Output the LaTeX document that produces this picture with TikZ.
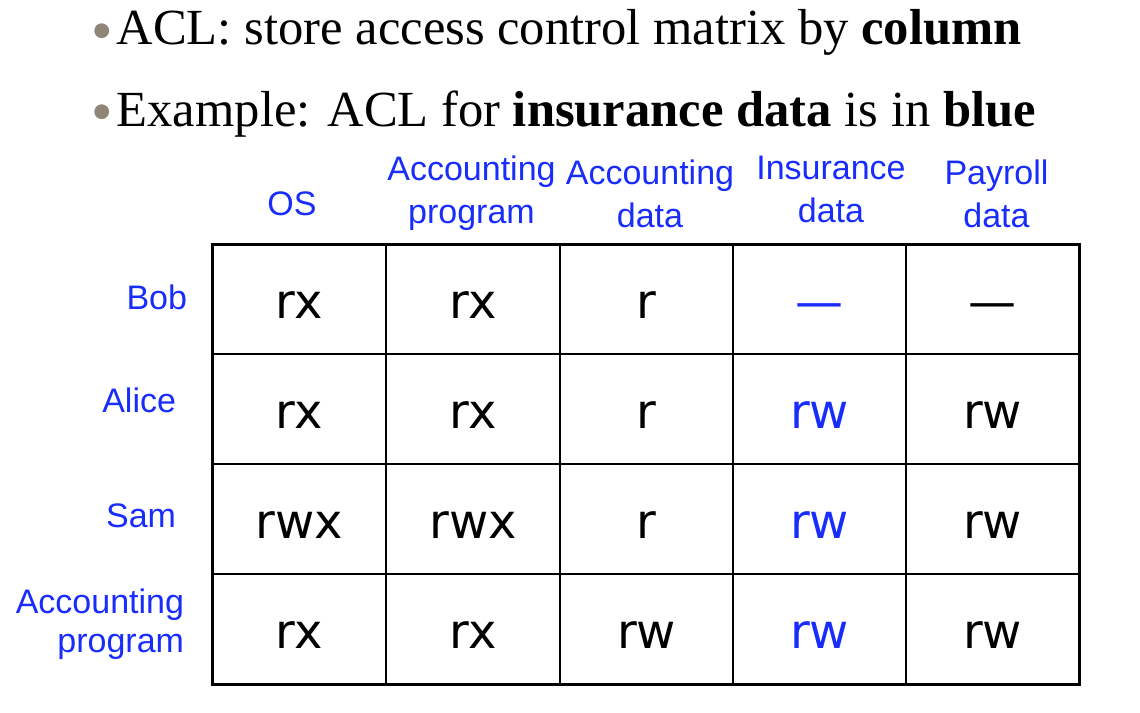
\documentclass[tikz,border=0pt]{standalone}
\usepackage{fontspec}
\setmainfont{Liberation Serif}
\newfontfamily\headfont{Liberation Sans}
\newfontfamily\cellfont{DejaVu Sans}
\definecolor{aclblue}{RGB}{25,45,250}
\definecolor{bulletgray}{RGB}{143,134,119}

\begin{document}
\begin{tikzpicture}[x=0.5pt, y=-0.5pt,
    every node/.style={inner sep=0pt, outer sep=0pt},
    dot/.style={circle, fill=bulletgray, minimum size=7.4pt},
    point/.style={anchor=base west, font=\fontsize{25.3}{30}\selectfont},
    head/.style={anchor=base, align=center, text=aclblue, font=\headfont\fontsize{17}{21.5}\selectfont},
    who/.style={anchor=base east, align=right, text=aclblue, font=\headfont\fontsize{17}{19.5}\selectfont},
    cell/.style={anchor=base, font=\cellfont\fontsize{24}{28}\selectfont},
    thinline/.style={line width=0.75pt},
    frame/.style={line width=1.5pt}]
    \useasboundingbox (0,0) rectangle (1140,712);
    % the two bullet points
    \node[dot] (dot1) at (101.7,30.7) {};
    \node[dot] (dot2) at (101.7,111.7) {};
    \node[point] (line1) at (116.7,44.5) {ACL: store access control matrix by \textbf{column}};
    \node[point] (line2) at (116.7,126) {Example: ACL for \textbf{insurance data} is in \textbf{blue}};
    % objects (base = last line)
    \node[head] (os) at (292,215) {OS};
    \node[head] (accprog) at (471.5,223) {Accounting\\program};
    \node[head] (accdata) at (650,227) {Accounting\\data};
    \node[head] (insdata) at (831,222) {Insurance\\data};
    \node[head] (paydata) at (996.5,227) {Payroll\\data};
    % subjects
    \node[who] (bob) at (187,309) {Bob};
    \node[who] (alice) at (176,412.7) {Alice};
    \node[who] (sam) at (176,527) {Sam};
    \node[who] (accuser) at (184,652) {Accounting\\program};
    % matrix
    \foreach \x in {386,560,733,906}
        \draw[thinline] (\x,244) -- (\x,684);
    \foreach \y in {354,464,574}
        \draw[thinline] (212,\y) -- (1079,\y);
    \draw[frame] (212,244) rectangle (1079,684);
    \foreach \a/\b/\c/\d/\e [count=\r] in {rx/rx/r/—/—, rx/rx/r/rw/rw, rwx/rwx/r/rw/rw, rx/rx/rw/rw/rw} {
        \node[cell] (c\r-1) at (299,208+110*\r) {\a};
        \node[cell] (c\r-2) at (473,208+110*\r) {\b};
        \node[cell] (c\r-3) at (646.5,208+110*\r) {\c};
        \node[cell, text=aclblue] (c\r-4) at (819.5,208+110*\r) {\d};
        \node[cell] (c\r-5) at (992.5,208+110*\r) {\e};
    }
\end{tikzpicture}
\end{document}
